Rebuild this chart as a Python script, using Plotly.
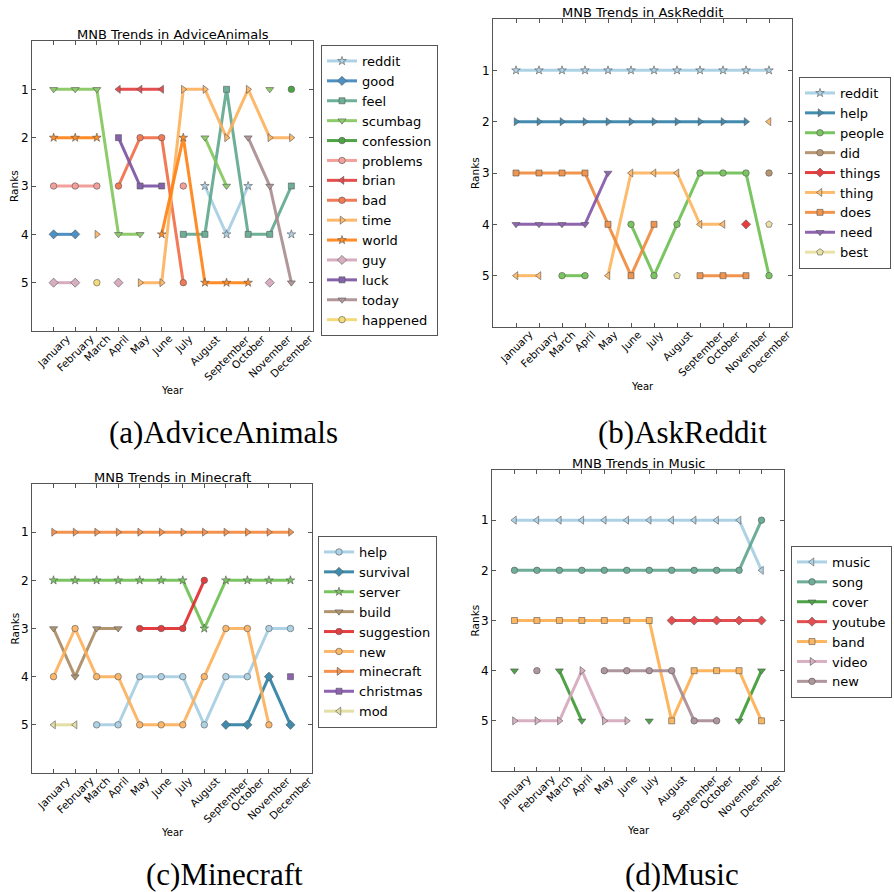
import plotly.graph_objects as go

W, H = 894, 892
N = None

MONTHS = ["January", "February", "March", "April", "May", "June", "July",
          "August", "September", "October", "November", "December"]
RANK_TICKS = [1, 2, 3, 4, 5]

# ---- (a) AdviceAnimals ----
AA_TERMS = ["reddit", "good", "feel", "scumbag", "confession", "problems", "brian",
            "bad", "time", "world", "guy", "luck", "today", "happened"]
AA_RANKS = [
    [N, N, N, N, N, N, N, 3, 4, 3, N, 4],   # reddit
    [4, 4, N, N, N, N, N, N, N, N, N, N],   # good
    [N, N, N, N, N, N, 4, 4, 1, 4, 4, 3],   # feel
    [1, 1, 1, 4, 4, N, N, 2, 3, N, 1, N],   # scumbag
    [N, N, N, N, N, N, N, N, N, N, N, 1],   # confession
    [3, 3, 3, N, N, N, 3, N, N, N, N, N],   # problems
    [N, N, N, 1, 1, 1, N, N, N, N, N, N],   # brian
    [N, N, N, 3, 2, 2, 5, N, N, N, N, N],   # bad
    [N, N, 4, N, 5, 5, 1, 1, 2, 1, 2, 2],   # time
    [2, 2, 2, N, N, 4, 2, 5, 5, 5, N, N],   # world
    [5, 5, N, 5, N, N, N, N, N, N, 5, N],   # guy
    [N, N, N, 2, 3, 3, N, N, N, N, N, N],   # luck
    [N, N, N, N, N, N, N, N, N, 2, 3, 5],   # today
    [N, N, 5, N, N, N, N, N, N, N, N, N],   # happened
]
AA_COLORS = ["#a6cee3", "#3a84bb", "#5fa78c", "#82c65c", "#3b9a32", "#f29690", "#e33b3c",
             "#f06c45", "#fdb15c", "#ff8010", "#d4a5ba", "#7a52a3", "#a98c90", "#f2d66c"]
AA_SYMBOLS = ["star", "diamond", "square", "triangle-down", "circle", "circle", "triangle-left",
              "circle", "triangle-right", "star", "diamond", "square", "triangle-down", "circle"]

# ---- (b) AskReddit ----
AR_TERMS = ["reddit", "help", "people", "did", "things", "thing", "does", "need", "best"]
AR_RANKS = [
    [1, 1, 1, 1, 1, 1, 1, 1, 1, 1, 1, 1],   # reddit
    [2, 2, 2, 2, 2, 2, 2, 2, 2, 2, 2, N],   # help
    [N, N, 5, 5, N, 4, 5, 4, 3, 3, 3, 5],   # people
    [N, N, N, N, N, N, N, N, N, N, N, 3],   # did
    [N, N, N, N, N, N, N, N, N, N, 4, N],   # things
    [5, 5, N, N, 5, 3, 3, 3, 4, 4, N, 2],   # thing
    [3, 3, 3, 3, 4, 5, 4, N, 5, 5, 5, N],   # does
    [4, 4, 4, 4, 3, N, N, N, N, N, N, N],   # need
    [N, N, N, N, N, N, N, 5, N, N, N, 4],   # best
]
AR_COLORS = ["#a6cee3", "#2f80a8", "#6cbf50", "#b08c62", "#e42a2a", "#fdb45e",
             "#f0893b", "#8355a8", "#e8de9e"]
AR_SYMBOLS = ["star", "triangle-right", "circle", "circle", "diamond", "triangle-left",
              "square", "triangle-down", "pentagon"]

# ---- (c) Minecraft ----
MC_TERMS = ["help", "survival", "server", "build", "suggestion", "new", "minecraft",
            "christmas", "mod"]
MC_RANKS = [
    [N, N, 5, 5, 4, 4, 4, 5, 4, 4, 3, 3],   # help
    [N, N, N, N, N, N, N, N, 5, 5, 4, 5],   # survival
    [2, 2, 2, 2, 2, 2, 2, 3, 2, 2, 2, 2],   # server
    [3, 4, 3, 3, N, N, N, N, N, N, N, N],   # build
    [N, N, N, N, 3, 3, 3, 2, N, N, N, N],   # suggestion
    [4, 3, 4, 4, 5, 5, 5, 4, 3, 3, 5, N],   # new
    [1, 1, 1, 1, 1, 1, 1, 1, 1, 1, 1, 1],   # minecraft
    [N, N, N, N, N, N, N, N, N, N, N, 4],   # christmas
    [5, 5, N, N, N, N, N, N, N, N, N, N],   # mod
]
MC_COLORS = ["#a6cee3", "#2c7fa2", "#6cbf50", "#a98a60", "#e3272b", "#fdb05a",
             "#f3873b", "#8152a8", "#e2dc9c"]
MC_SYMBOLS = ["circle", "diamond", "star", "triangle-down", "circle", "circle",
              "triangle-right", "square", "triangle-left"]

# ---- (d) Music ----
MU_TERMS = ["music", "song", "cover", "youtube", "band", "video", "new"]
MU_RANKS = [
    [1, 1, 1, 1, 1, 1, 1, 1, 1, 1, 1, 2],   # music
    [2, 2, 2, 2, 2, 2, 2, 2, 2, 2, 2, 1],   # song
    [4, N, 4, 5, N, N, 5, N, N, N, 5, 4],   # cover
    [N, N, N, N, N, N, N, 3, 3, 3, 3, 3],   # youtube
    [3, 3, 3, 3, 3, 3, 3, 5, 4, 4, 4, 5],   # band
    [5, 5, 5, 4, 5, 5, N, N, N, N, N, N],   # video
    [N, 4, N, N, 4, 4, 4, 4, 5, 5, N, N],   # new
]
MU_COLORS = ["#a6cee3", "#5fa58d", "#3a9a33", "#e33a3e", "#fdae4f", "#d4a8bc", "#a78b92"]
MU_SYMBOLS = ["triangle-left", "circle", "triangle-down", "diamond", "square",
              "triangle-right", "circle"]

PANELS = [
    dict(title="MNB Trends in AdviceAnimals", caption="(a)AdviceAnimals",
         terms=AA_TERMS, ranks=AA_RANKS, colors=AA_COLORS, symbols=AA_SYMBOLS,
         box=(32, 41, 313, 331), legend=(321, 45), cap=(223, 432)),
    dict(title="MNB Trends in AskReddit", caption="(b)AskReddit",
         terms=AR_TERMS, ranks=AR_RANKS, colors=AR_COLORS, symbols=AR_SYMBOLS,
         box=(493, 19, 792, 327), legend=(799, 77), cap=(682, 432)),
    dict(title="MNB Trends in Minecraft", caption="(c)Minecraft",
         terms=MC_TERMS, ranks=MC_RANKS, colors=MC_COLORS, symbols=MC_SYMBOLS,
         box=(32, 484, 312, 773), legend=(318, 536), cap=(224, 874)),
    dict(title="MNB Trends in Music", caption="(d)Music",
         terms=MU_TERMS, ranks=MU_RANKS, colors=MU_COLORS, symbols=MU_SYMBOLS,
         box=(492, 470, 784, 771), legend=(791, 546), cap=(682, 874)),
]

SIZES = {"star": 6.5, "diamond": 7, "square": 6, "circle": 6.5, "pentagon": 7}


def px(x):
    return x / W


def py(y):
    return 1 - y / H


FONT = "DejaVu Sans"
AXC = "#555555"

fig = go.Figure()
annotations = []
layout = dict(
    width=W, height=H, margin=dict(l=0, r=0, t=0, b=0, autoexpand=False),
    paper_bgcolor="white", plot_bgcolor="white",
    font=dict(family=FONT, color="black"), showlegend=True,
)

months_idx = list(range(len(MONTHS)))

for k, p in enumerate(PANELS):
    n = "" if k == 0 else str(k + 1)
    xa, ya = "x" + n, "y" + n
    lg = "legend" + n
    x0, y0, x1, y1 = p["box"]
    layout["xaxis" + n] = dict(
        domain=[px(x0), px(x1)], anchor=ya, range=[-1, 12], tickvals=months_idx,
        showticklabels=False, ticks="inside", ticklen=4, tickcolor=AXC,
        showline=True, linecolor=AXC, linewidth=1, mirror="allticks",
        showgrid=False, zeroline=False, fixedrange=True,
    )
    layout["yaxis" + n] = dict(
        domain=[py(y1), py(y0)], anchor=xa, range=[6, 0], tickvals=RANK_TICKS,
        ticktext=[str(v) for v in RANK_TICKS], ticks="inside", ticklen=4,
        tickcolor=AXC, showline=True, linecolor=AXC, linewidth=1, mirror="allticks",
        showgrid=False, zeroline=False, tickfont=dict(size=12, family=FONT),
        ticklabelstandoff=0, fixedrange=True,
    )
    lx, ly = p["legend"]
    layout[lg] = dict(
        x=px(lx), y=py(ly), xanchor="left", yanchor="top", xref="paper", yref="paper",
        bgcolor="white", bordercolor="#555555", borderwidth=1,
        font=dict(size=13, family=FONT), tracegroupgap=0,
    )
    for term, r, c, s in zip(p["terms"], p["ranks"], p["colors"], p["symbols"]):
        fig.add_trace(go.Scatter(
            x=months_idx, y=r, name=term, mode="lines+markers", xaxis=xa, yaxis=ya,
            legend=lg, connectgaps=False, opacity=0.9,
            line=dict(color=c, width=3),
            marker=dict(symbol=s, color=c, size=SIZES.get(s, 7),
                        line=dict(color="#444444", width=0.6)),
        ))
    # title
    annotations.append(dict(
        text=p["title"], x=px((x0 + x1) / 2), y=py(y0 - 7), xref="paper", yref="paper",
        xanchor="center", yanchor="middle", showarrow=False,
        font=dict(size=13, family=FONT, color="black"),
    ))
    # y label
    annotations.append(dict(
        text="Ranks", x=px(x0 - 18), y=py((y0 + y1) / 2), xref="paper", yref="paper",
        xanchor="center", yanchor="middle", textangle=-90, showarrow=False,
        font=dict(size=10.5, family=FONT, color="black"),
    ))
    # x label
    annotations.append(dict(
        text="Year", x=px((x0 + x1) / 2), y=py(y1 + 59), xref="paper", yref="paper",
        xanchor="center", yanchor="middle", showarrow=False,
        font=dict(size=10, family=FONT, color="black"),
    ))
    # month tick labels (rotated, centred under ticks)
    for i, m in enumerate(MONTHS):
        annotations.append(dict(
            text=m, x=i, y=py(y1), xref=xa, yref="paper",
            xanchor="center", yanchor="top", textangle=-45, showarrow=False,
            font=dict(size=10.5, family=FONT, color="black"), borderpad=0,
        ))
    # caption
    cx, cy = p["cap"]
    annotations.append(dict(
        text=p["caption"], x=px(cx), y=py(cy), xref="paper", yref="paper",
        xanchor="center", yanchor="middle", showarrow=False,
        font=dict(size=31, family="Liberation Serif", color="black"),
    ))

layout["annotations"] = annotations
fig.update_layout(**layout)
fig.write_html(
    "out.html",
    config={"displayModeBar": False},
    post_script="document.body.style.margin='0';document.body.style.padding='0';",
)
